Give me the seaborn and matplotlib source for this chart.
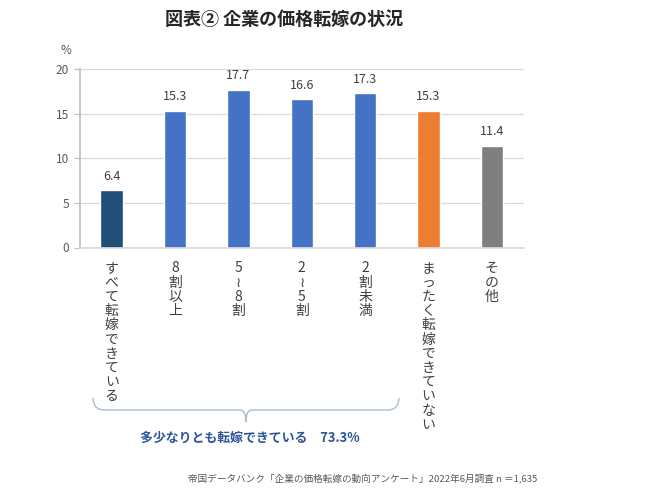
import matplotlib
matplotlib.use("Agg")
import matplotlib.pyplot as plt
import numpy as np
import pandas as pd
import seaborn as sns
from matplotlib.path import Path
from matplotlib.patches import PathPatch

# ── Data ──────────────────────────────────────────────────────────────────────

categories = ["すべて転嫁できている", "8割以上", "5≀8割", "2≀5割", "2割未満",
              "まったく転嫁できていない", "その他"]
values = [6.4, 15.3, 17.7, 16.6, 17.3, 15.3, 11.4]
bar_colors = ["#1f4e79", "#4472c4", "#4472c4", "#4472c4", "#4472c4",
              "#ed7d31", "#7f7f7f"]
yticks = [0, 5, 10, 15, 20]

title = "図表② 企業の価格転嫁の状況"
bracket_text = "多少なりとも転嫁できている　73.3%"
source_text = "帝国データバンク「企業の価格転嫁の動向アンケート」2022年6月調査 n ＝1,635"

# ── Style ─────────────────────────────────────────────────────────────────────

sns.set_theme(style="white")
plt.rcParams["font.family"] = ["Noto Sans CJK JP", "DejaVu Sans"]

W, H = 645, 492
fig = plt.figure(figsize=(W / 100, H / 100), dpi=100)
fig.patch.set_facecolor("white")

ax_l, ax_r, ax_top, ax_bot = 80, 523.5, 69, 247.5
ax = fig.add_axes([ax_l / W, 1 - ax_bot / H, (ax_r - ax_l) / W, (ax_bot - ax_top) / H])

df = pd.DataFrame({"cat": categories, "val": values})
sns.barplot(data=df, x="cat", y="val", hue="cat", palette=bar_colors,
            legend=False, width=0.355, ax=ax, saturation=1)

for i, v in enumerate(values):
    ax.text(i, v + 0.85, f"{v:.1f}", ha="center", va="bottom",
            fontsize=9, color="#404040")

ax.set_ylim(0, 20)
ax.set_xlim(-0.5, len(values) - 0.5)
ax.set_yticks(yticks)
ax.set_yticklabels([str(t) for t in yticks], fontsize=8.5, color="#595959")
ax.tick_params(axis="y", length=4, width=0.8, color="#bfbfbf", pad=4, left=True)
ax.yaxis.grid(True, color="#d9d9d9", linewidth=0.9)
ax.set_axisbelow(True)
for s in ["top", "right"]:
    ax.spines[s].set_visible(False)
ax.spines["left"].set_color("#bfbfbf")
ax.spines["bottom"].set_color("#d9d9d9")
ax.set_xlabel("")
ax.set_ylabel("")
ax.set_xticks(range(len(categories)))
ax.set_xticklabels([])
ax.tick_params(axis="x", length=0)

# vertical (stacked) category labels
for i, c in enumerate(categories):
    ax.annotate("\n".join(c), xy=(i, 0), xycoords="data",
                xytext=(0, -10), textcoords="offset points",
                ha="center", va="top", fontsize=10, color="#404040",
                linespacing=1.02, annotation_clip=False)

fig.text(66 / W, 1 - 51 / H, "%", ha="center", va="center",
         fontsize=8.5, color="#595959")

fig.text(284 / W, 1 - 19 / H, title, ha="center", va="center",
         fontsize=13, fontweight="bold", color="#262626")

# curly brace under first five categories
def px(x, y):
    return (x / W, 1 - y / H)

verts = [px(93, 398), px(94, 408), px(98, 410), px(106, 410),
         px(240, 410),
         px(244, 410), px(246, 414), px(246, 422),
         px(246, 414), px(248, 410), px(252, 410),
         px(386, 410),
         px(394, 410), px(398, 408), px(399, 398)]
codes = [Path.MOVETO, Path.CURVE4, Path.CURVE4, Path.CURVE4,
         Path.LINETO,
         Path.CURVE4, Path.CURVE4, Path.CURVE4,
         Path.CURVE4, Path.CURVE4, Path.CURVE4,
         Path.LINETO,
         Path.CURVE4, Path.CURVE4, Path.CURVE4]
brace = PathPatch(Path(verts, codes), transform=fig.transFigure,
                  facecolor="none", edgecolor="#a9bcd6", linewidth=1.0)
fig.patches.append(brace)

fig.text(250 / W, 1 - 438 / H, bracket_text, ha="center", va="center",
         fontsize=9.3, fontweight="bold", color="#2f5597")

fig.text(537 / W, 1 - 479 / H, source_text, ha="right", va="center",
         fontsize=6.9, color="#595959")

fig.savefig("out.png", dpi=100, facecolor="white")
